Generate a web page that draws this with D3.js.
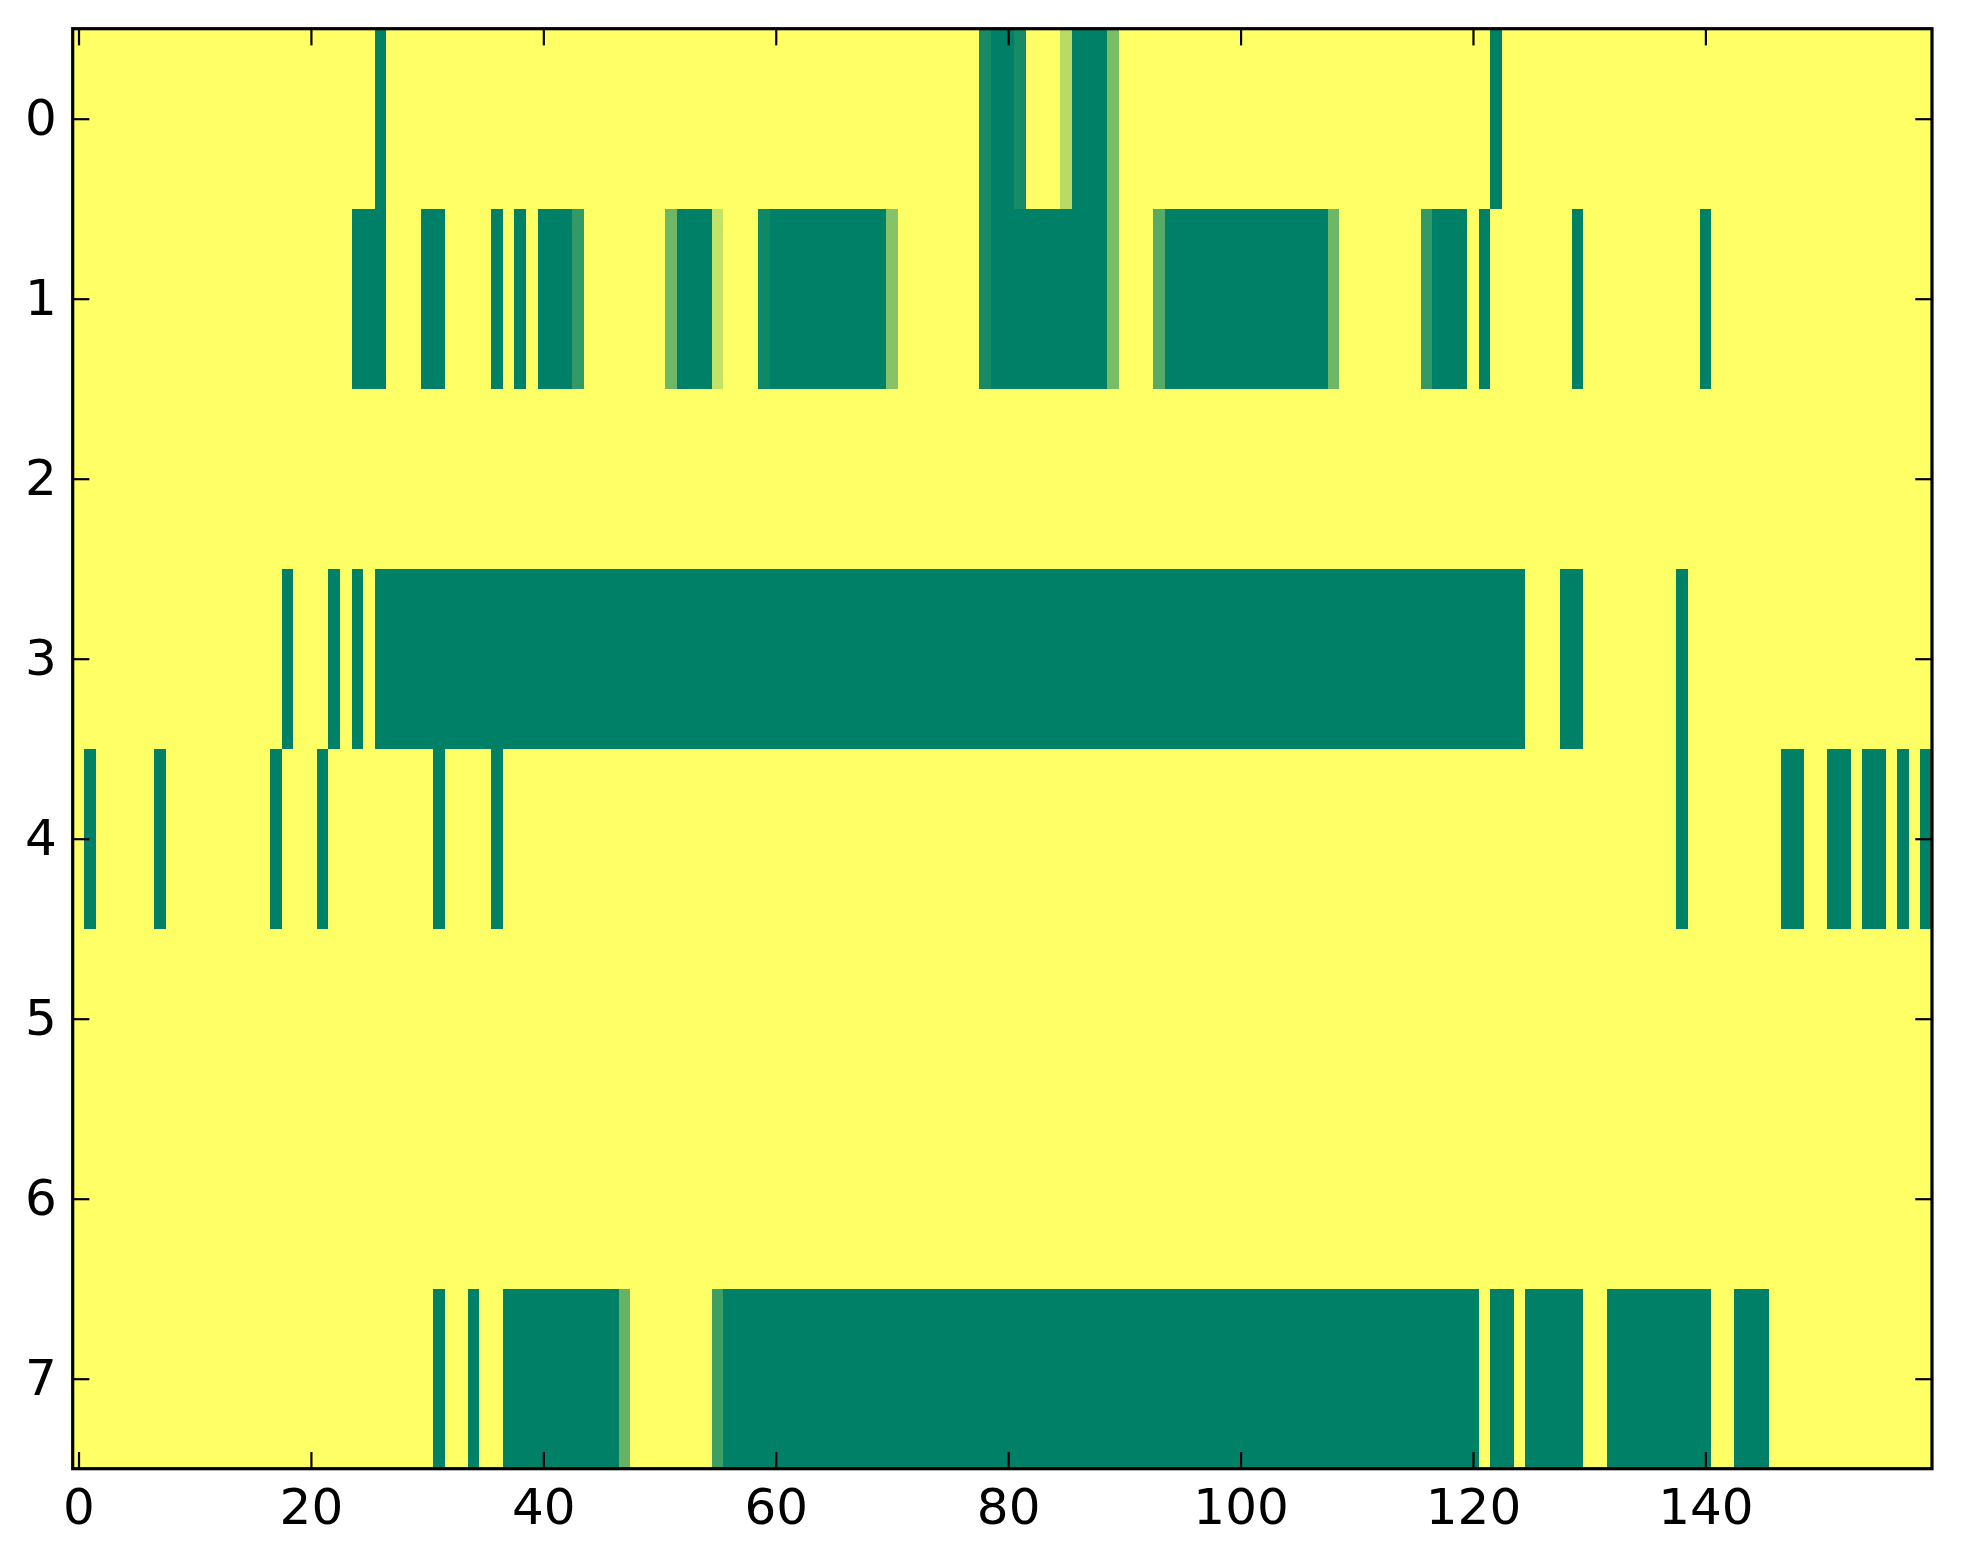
<!DOCTYPE html>
<html>
<head>
<meta charset="UTF-8">
<title>heatmap</title>
<script src="https://d3js.org/d3.v7.min.js"></script>
<style>
  body { margin: 0; background: #fff; }
  .axis text { font-family: "DejaVu Sans", sans-serif; font-size: 50px; fill: #000; }
  .axis line { stroke: #000; stroke-width: 2.2; }
  .axis path { display: none; }
</style>
</head>
<body>
<svg id="chart" width="1963" height="1564"></svg>
<script>
// one array per row, 160 columns each (0 = yellow, 1 = dark green)
const row0 = [
  0,0,0,0,0,0,0,0,0,0,0,0,0,0,0,0,0,0,0,0,
  0,0,0,0,0,0,1,0,0,0,0,0,0,0,0,0,0,0,0,0,
  0,0,0,0,0,0,0,0,0,0,0,0,0,0,0,0,0,0,0,0,
  0,0,0,0,0,0,0,0,0,0,0,0,0,0,0,0,0,0,0.91,1,
  1,0.91,0,0,0,0.28,1,1,1,0.53,0,0,0,0,0,0,0,0,0,0,
  0,0,0,0,0,0,0,0,0,0,0,0,0,0,0,0,0,0,0,0,
  0,0,1,0,0,0,0,0,0,0,0,0,0,0,0,0,0,0,0,0,
  0,0,0,0,0,0,0,0,0,0,0,0,0,0,0,0,0,0,0,0
];
const row1 = [
  0,0,0,0,0,0,0,0,0,0,0,0,0,0,0,0,0,0,0,0,
  0,0,0,0,1,1,1,0,0,0,1,1,0,0,0,0,1,0,1,0,
  1,1,1,0.8,0,0,0,0,0,0,0,0.57,1,1,1,0.23,0,0,0,0.94,
  1,1,1,1,1,1,1,1,1,1,0.47,0,0,0,0,0,0,0,0.91,1,
  1,1,1,1,1,1,1,1,1,0.53,0,0,0,0.66,1,1,1,1,1,1,
  1,1,1,1,1,1,1,1,0.57,0,0,0,0,0,0,0,0.8,1,1,1,
  0,1,0,0,0,0,0,0,0,1,0,0,0,0,0,0,0,0,0,0,
  1,0,0,0,0,0,0,0,0,0,0,0,0,0,0,0,0,0,0,0
];
const row2 = [
  0,0,0,0,0,0,0,0,0,0,0,0,0,0,0,0,0,0,0,0,
  0,0,0,0,0,0,0,0,0,0,0,0,0,0,0,0,0,0,0,0,
  0,0,0,0,0,0,0,0,0,0,0,0,0,0,0,0,0,0,0,0,
  0,0,0,0,0,0,0,0,0,0,0,0,0,0,0,0,0,0,0,0,
  0,0,0,0,0,0,0,0,0,0,0,0,0,0,0,0,0,0,0,0,
  0,0,0,0,0,0,0,0,0,0,0,0,0,0,0,0,0,0,0,0,
  0,0,0,0,0,0,0,0,0,0,0,0,0,0,0,0,0,0,0,0,
  0,0,0,0,0,0,0,0,0,0,0,0,0,0,0,0,0,0,0,0
];
const row3 = [
  0,0,0,0,0,0,0,0,0,0,0,0,0,0,0,0,0,0,1,0,
  0,0,1,0,1,0,1,1,1,1,1,1,1,1,1,1,1,1,1,1,
  1,1,1,1,1,1,1,1,1,1,1,1,1,1,1,1,1,1,1,1,
  1,1,1,1,1,1,1,1,1,1,1,1,1,1,1,1,1,1,1,1,
  1,1,1,1,1,1,1,1,1,1,1,1,1,1,1,1,1,1,1,1,
  1,1,1,1,1,1,1,1,1,1,1,1,1,1,1,1,1,1,1,1,
  1,1,1,1,1,0,0,0,1,1,0,0,0,0,0,0,0,0,1,0,
  0,0,0,0,0,0,0,0,0,0,0,0,0,0,0,0,0,0,0,0
];
const row4 = [
  0,1,0,0,0,0,0,1,0,0,0,0,0,0,0,0,0,1,0,0,
  0,1,0,0,0,0,0,0,0,0,0,1,0,0,0,0,1,0,0,0,
  0,0,0,0,0,0,0,0,0,0,0,0,0,0,0,0,0,0,0,0,
  0,0,0,0,0,0,0,0,0,0,0,0,0,0,0,0,0,0,0,0,
  0,0,0,0,0,0,0,0,0,0,0,0,0,0,0,0,0,0,0,0,
  0,0,0,0,0,0,0,0,0,0,0,0,0,0,0,0,0,0,0,0,
  0,0,0,0,0,0,0,0,0,0,0,0,0,0,0,0,0,0,1,0,
  0,0,0,0,0,0,0,1,1,0,0,1,1,0,1,1,0,1,0,1
];
const row5 = [
  0,0,0,0,0,0,0,0,0,0,0,0,0,0,0,0,0,0,0,0,
  0,0,0,0,0,0,0,0,0,0,0,0,0,0,0,0,0,0,0,0,
  0,0,0,0,0,0,0,0,0,0,0,0,0,0,0,0,0,0,0,0,
  0,0,0,0,0,0,0,0,0,0,0,0,0,0,0,0,0,0,0,0,
  0,0,0,0,0,0,0,0,0,0,0,0,0,0,0,0,0,0,0,0,
  0,0,0,0,0,0,0,0,0,0,0,0,0,0,0,0,0,0,0,0,
  0,0,0,0,0,0,0,0,0,0,0,0,0,0,0,0,0,0,0,0,
  0,0,0,0,0,0,0,0,0,0,0,0,0,0,0,0,0,0,0,0
];
const row6 = [
  0,0,0,0,0,0,0,0,0,0,0,0,0,0,0,0,0,0,0,0,
  0,0,0,0,0,0,0,0,0,0,0,0,0,0,0,0,0,0,0,0,
  0,0,0,0,0,0,0,0,0,0,0,0,0,0,0,0,0,0,0,0,
  0,0,0,0,0,0,0,0,0,0,0,0,0,0,0,0,0,0,0,0,
  0,0,0,0,0,0,0,0,0,0,0,0,0,0,0,0,0,0,0,0,
  0,0,0,0,0,0,0,0,0,0,0,0,0,0,0,0,0,0,0,0,
  0,0,0,0,0,0,0,0,0,0,0,0,0,0,0,0,0,0,0,0,
  0,0,0,0,0,0,0,0,0,0,0,0,0,0,0,0,0,0,0,0
];
const row7 = [
  0,0,0,0,0,0,0,0,0,0,0,0,0,0,0,0,0,0,0,0,
  0,0,0,0,0,0,0,0,0,0,0,1,0,0,1,0,0,1,1,1,
  1,1,1,1,1,1,1,0.6,0,0,0,0,0,0,0,0.76,1,1,1,1,
  1,1,1,1,1,1,1,1,1,1,1,1,1,1,1,1,1,1,1,1,
  1,1,1,1,1,1,1,1,1,1,1,1,1,1,1,1,1,1,1,1,
  1,1,1,1,1,1,1,1,1,1,1,1,1,1,1,1,1,1,1,1,
  1,0,1,1,0,1,1,1,1,1,0,0,1,1,1,1,1,1,1,1,
  1,0,0,1,1,1,0,0,0,0,0,0,0,0,0,0,0,0,0,0
];

const rows = [row0, row1, row2, row3, row4, row5, row6, row7];
const xTicks = [0, 20, 40, 60, 80, 100, 120, 140];
const yTicks = [0, 1, 2, 3, 4, 5, 6, 7];

const svg = d3.select("#chart");
const plotLeft = 72.7, plotTop = 28.7, plotRight = 1932, plotBottom = 1468.7;
const tickLen = 16.7;

const x = d3.scaleLinear().domain([-0.5, 159.5]).range([plotLeft, plotRight]);
const y = d3.scaleLinear().domain([-0.5, 7.5]).range([plotTop, plotBottom]);
// summer_r: 0 -> yellow, 1 -> green
const color = d3.scaleLinear().domain([0, 1]).range(["#ffff66", "#008066"]);

const cells = [];
rows.forEach((r, j) => r.forEach((v, i) => cells.push({i, j, v})));

svg.append("g")
  .selectAll("rect")
  .data(cells)
  .enter().append("rect")
  .attr("x", d => Math.round(x(d.i - 0.5)))
  .attr("y", d => Math.round(y(d.j - 0.5)))
  .attr("width", d => Math.round(x(d.i + 0.5)) - Math.round(x(d.i - 0.5)))
  .attr("height", d => Math.round(y(d.j + 0.5)) - Math.round(y(d.j - 0.5)))
  .attr("fill", d => color(d.v))
  .attr("shape-rendering", "crispEdges");

// ticks point inwards on all four sides, labels only bottom and left
svg.append("g")
  .attr("class", "axis")
  .attr("transform", `translate(0,${plotBottom})`)
  .call(d3.axisBottom(x).tickValues(xTicks).tickSize(-tickLen).tickPadding(20));

svg.append("g")
  .attr("class", "axis")
  .attr("transform", `translate(0,${plotTop})`)
  .call(d3.axisTop(x).tickValues(xTicks).tickSize(-tickLen).tickFormat(""));

svg.append("g")
  .attr("class", "axis")
  .attr("transform", `translate(${plotLeft},0)`)
  .call(d3.axisLeft(y).tickValues(yTicks).tickSize(-tickLen).tickPadding(16));

svg.append("g")
  .attr("class", "axis")
  .attr("transform", `translate(${plotRight},0)`)
  .call(d3.axisRight(y).tickValues(yTicks).tickSize(-tickLen).tickFormat(""));

svg.append("rect")
  .attr("x", plotLeft)
  .attr("y", plotTop)
  .attr("width", plotRight - plotLeft)
  .attr("height", plotBottom - plotTop)
  .attr("fill", "none")
  .attr("stroke", "#000")
  .attr("stroke-width", 3.2);
</script>
</body>
</html>
